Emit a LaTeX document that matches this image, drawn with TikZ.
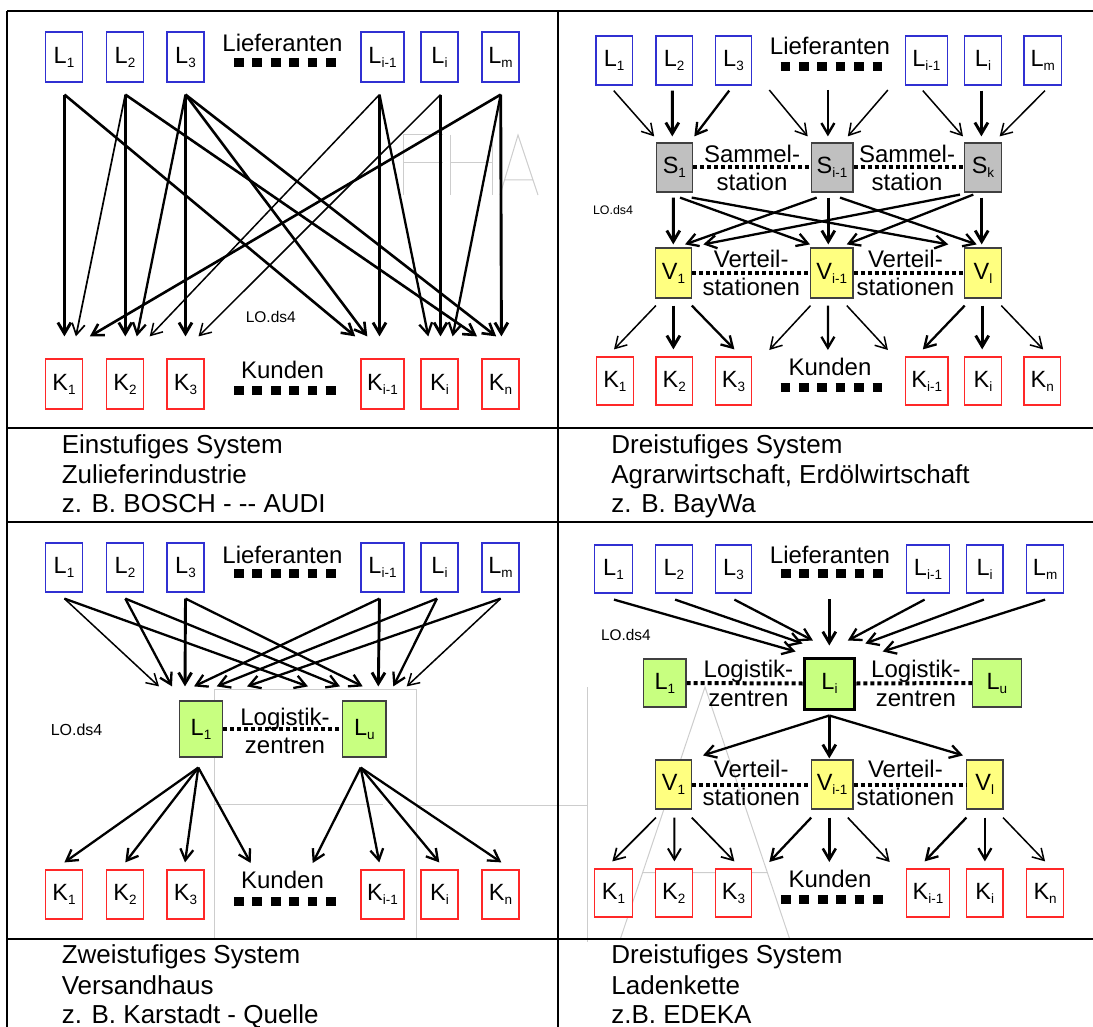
\documentclass[tikz,border=0pt]{standalone}
\usepackage{fontspec}
\setmainfont{Liberation Sans}
\usetikzlibrary{arrows.meta,calc}
\definecolor{lblue}{RGB}{48,48,210}
\definecolor{kred}{RGB}{255,40,40}
\definecolor{sgray}{RGB}{192,192,192}
\definecolor{vyel}{RGB}{255,255,128}
\definecolor{lgreen}{RGB}{200,255,128}
\definecolor{wmgray}{RGB}{205,205,205}
\newcommand\bx[2]{#1\raisebox{-4pt}{\fontsize{13.5}{13.5}\selectfont #2}}
\newcommand\ar[7]{\draw[#1] ($(#2.south)+(#3,#4)$) -- ($(#5.north)+(#6,#7)$);}
\begin{document}
\begin{tikzpicture}[x=1pt,y=-1pt,
 bxo/.style={draw,line width=1.2pt,inner sep=0pt,minimum width=37pt,minimum height=50pt,font=\fontsize{23.5}{23.5}\selectfont},
 lb/.style={bxo,draw=lblue,fill=white},
 kb/.style={bxo,draw=kred,fill=white},
 sb/.style={bxo,draw=black!75,fill=sgray},
 vb/.style={bxo,draw=black!75,fill=vyel},
 gb/.style={bxo,draw=black!75,fill=lgreen},
 arr/.style={-{Straight Barb[length=11pt,width=13pt]},line width=#1},
 thk/.style={arr=2.9pt},
 md/.style={arr=2.3pt},
 thn/.style={arr=1.5pt},
 sq/.style={line width=9pt,dash pattern=on 9.7pt off 8.7pt},
 dotl/.style={line width=4pt,dash pattern=on 4pt off 3pt},
 lab/.style={font=\fontsize{24}{24}\selectfont,inner sep=0pt,anchor=base},
 twol/.style={font=\fontsize{24}{28.5}\selectfont,align=center,inner sep=0pt},
 capt/.style={font=\fontsize{26}{26}\selectfont,inner sep=0pt,anchor=base west},
 lo/.style={font=\fontsize{#1}{#1}\selectfont,inner sep=0pt},
 frm/.style={line width=2.6pt},
 wm/.style={draw=wmgray,line width=1pt}
]
\useasboundingbox (0,0) rectangle (1093,1027);

% watermark
\draw[wm] (403,135) -- (403,195) (403,135) -- (443,135) (403,163) -- (443,163);
\draw[wm] (450,135) -- (450,195) (492,135) -- (492,195) (450,163) -- (492,163);
\draw[wm] (500,195) -- (518,135) -- (538,195) (504.5,180) -- (533,180);
\draw[wm] (214.3,938) -- (214.3,689) -- (416.7,689) -- (416.7,938) (214.3,804) -- (383.3,804);
\draw[wm] (416.7,805.7) -- (587.3,805.7) (587.3,687) -- (587.3,942);
\draw[wm] (620,940) -- (705,687) -- (790,940) (643.3,872.7) -- (766.7,872.7);

% frame
\draw[frm] (7,11) -- (1093,11);
\draw[frm] (7,11) -- (7,1027);
\draw[frm] (558,11) -- (558,1027);
\draw[frm] (7,428) -- (1093,428);
\draw[frm] (7,522) -- (1093,522);
\draw[frm] (7,939) -- (1093,939);

%% ===== top left =====
\node[lb] (tlL1) at (64,57) {\bx{L}{1}};
\node[lb] (tlL2) at (125,57) {\bx{L}{2}};
\node[lb] (tlL3) at (185.5,57) {\bx{L}{3}};
\node[lb,minimum width=43pt] (tlLi1) at (382.5,57) {\bx{L}{i-1}};
\node[lb] (tlLi) at (439.5,57) {\bx{L}{i}};
\node[lb] (tlLm) at (500.5,57) {\bx{L}{m}};
\node[kb] (tlK1) at (64,384) {\bx{K}{1}};
\node[kb] (tlK2) at (125,384) {\bx{K}{2}};
\node[kb] (tlK3) at (185.5,384) {\bx{K}{3}};
\node[kb,minimum width=43pt] (tlKi1) at (382.5,384) {\bx{K}{i-1}};
\node[kb] (tlKi) at (439.5,384) {\bx{K}{i}};
\node[kb] (tlKn) at (500.5,384) {\bx{K}{n}};
\node[lab] (tlLief) at (282.5,52) {Lieferanten};
\draw[sq] (234,63) -- (336,63);
\node[lab] (tlKund) at (282.5,378) {Kunden};
\draw[sq] (234,390) -- (336,390);
\node[lo=15.5] (tlLO) at (270.8,317) {LO.ds4};
\ar{thk}{tlL1}{0.4}{12}{tlK1}{0.4}{-22}
\ar{arr=2.6pt}{tlL1}{0.4}{12}{tlKi1}{-27.3}{-22}
\ar{arr=1.7pt}{tlL2}{0.3}{12}{tlK1}{11.9}{-22}
\ar{thk}{tlL2}{0.3}{12}{tlK2}{0.3}{-22}
\ar{arr=2.6pt}{tlL2}{0.3}{12}{tlKn}{-23.5}{-22}
\ar{md}{tlL3}{0}{12}{tlK2}{11.8}{-22}
\ar{thk}{tlL3}{0}{12}{tlK3}{0}{-22}
\ar{arr=2.6pt}{tlL3}{0}{12}{tlKi1}{-15.2}{-22}
\ar{arr=2.6pt}{tlL3}{0}{12}{tlKn}{-4.3}{-22}
\ar{thn}{tlLi1}{-3}{12}{tlK2}{24.7}{-22}
\ar{thk}{tlLi1}{-3}{12}{tlKi1}{-3}{-22}
\ar{md}{tlLi1}{-3}{12}{tlKi}{-11.2}{-22}
\ar{thn}{tlLi}{1}{12}{tlK3}{13}{-22}
\ar{thk}{tlLi}{1}{12}{tlKi}{1}{-22}
\ar{arr=2.6pt}{tlLm}{0.2}{12}{tlK1}{25.8}{-22}
\ar{md}{tlLm}{0.2}{12}{tlKi}{13.1}{-22}
\ar{thk}{tlLm}{0.2}{12}{tlKn}{0.9}{-22}
\node[capt] (tlc1) at (61.6,453) {Einstufiges System};
\node[capt] (tlc2) at (61.6,483) {Zulieferindustrie};
\node[capt] (tlc3) at (61.6,512.5) {z. B. BOSCH - -{}- AUDI};

%% ===== top right =====
\node[lb,minimum width=36.6pt,minimum height=49pt] (trL1) at (614.2,60.5) {\bx{L}{1}};
\node[lb,minimum width=36.6pt,minimum height=49pt] (trL2) at (674.2,60.5) {\bx{L}{2}};
\node[lb,minimum width=36.6pt,minimum height=49pt] (trL3) at (733.5,60.5) {\bx{L}{3}};
\node[lb,minimum width=42pt,minimum height=49pt] (trLi1) at (926.4,60.5) {\bx{L}{i-1}};
\node[lb,minimum width=36.6pt,minimum height=49pt] (trLi) at (983,60.5) {\bx{L}{i}};
\node[lb,minimum width=37.7pt,minimum height=49pt] (trLm) at (1042.8,60.5) {\bx{L}{m}};
\node[sb,minimum width=36.2pt,minimum height=49pt] (trS1) at (674.4,167.5) {\bx{S}{1}};
\node[sb,minimum width=41.8pt,minimum height=49pt] (trSi1) at (832,167.5) {\bx{S}{i-1}};
\node[sb,minimum width=36.6pt,minimum height=49pt] (trSk) at (983,167.5) {\bx{S}{k}};
\node[vb,minimum width=36.6pt] (trV1) at (673.5,273) {\bx{V}{1}};
\node[vb,minimum width=42.5pt] (trVi1) at (831.8,273) {\bx{V}{i-1}};
\node[vb,minimum width=36.6pt] (trVl) at (983,273) {\bx{V}{l}};
\node[kb,minimum width=36.6pt,minimum height=48pt] (trK1) at (614.9,381) {\bx{K}{1}};
\node[kb,minimum width=36.6pt,minimum height=48pt] (trK2) at (674.2,381) {\bx{K}{2}};
\node[kb,minimum width=36.6pt,minimum height=48pt] (trK3) at (733.5,381) {\bx{K}{3}};
\node[kb,minimum width=42.6pt,minimum height=48pt] (trKi1) at (926.7,381) {\bx{K}{i-1}};
\node[kb,minimum width=36.6pt,minimum height=48pt] (trKi) at (983,381) {\bx{K}{i}};
\node[kb,minimum width=36.6pt,minimum height=48pt] (trKn) at (1042.3,381) {\bx{K}{n}};
\node[lab] (trLief) at (830,55) {Lieferanten};
\draw[sq] (780.5,67) -- (882.5,67);
\node[lab] (trKund) at (830,375) {Kunden};
\draw[sq] (780.5,387) -- (882.5,387);
\node[lo=12.4] (trLO) at (613,210) {LO.ds4};
\draw[dotl] (trS1.east) -- (trSi1.west);
\draw[dotl] (trSi1.east) -- (trSk.west);
\draw[dotl] (trV1.east) -- (trVi1.west);
\draw[dotl] (trVi1.east) -- (trVl.west);
\node[twol] (trSam1) at (752,168) {Sammel-\\station};
\node[twol] (trSam2) at (907,168) {Sammel-\\station};
\node[twol] (trVer1) at (751.2,273) {Verteil-\\stationen};
\node[twol] (trVer2) at (905.4,273) {Verteil-\\stationen};
% L -> S
\ar{thn}{trL1}{-0.5}{5}{trS1}{-20.2}{-6}
\ar{thk}{trL2}{-1.9}{5}{trS1}{-2.1}{-6}
\ar{md}{trL3}{-4.3}{5}{trS1}{19.9}{-6}
\coordinate (trd1) at (769.3,90);
\coordinate (trd2) at (827.9,90);
\coordinate (trd3) at (887.9,90);
\draw[thn] (trd1) -- ($(trSi1.north)+(-24.3,-6)$);
\draw[arr=2.4pt] (trd2) -- ($(trSi1.north)+(-4.1,-6)$);
\draw[thn] (trd3) -- ($(trSi1.north)+(15.8,-6)$);
\ar{thn}{trLi1}{-3.6}{5}{trSk}{-20}{-6}
\ar{thk}{trLi}{-1.6}{5}{trSk}{-1.6}{-6}
\ar{thn}{trLm}{2.2}{5}{trSk}{16.6}{-6}
% S -> V
\ar{thk}{trS1}{-1.1}{5}{trV1}{-0.2}{-3}
\ar{md}{trS1}{5.6}{5}{trVi1}{-21.8}{-3}
\ar{md}{trS1}{17.3}{5}{trVl}{-34.7}{-3}
\ar{md}{trSi1}{-15.3}{5}{trV1}{11.5}{-3}
\ar{thk}{trSi1}{-3.7}{5}{trVi1}{-3.5}{-3}
\ar{md}{trSi1}{8}{5}{trVl}{-6.3}{-3}
\ar{md}{trSk}{-23}{2}{trV1}{29.8}{-3}
\ar{md}{trSk}{-9.7}{2}{trVi1}{14.9}{-3}
\ar{thk}{trSk}{-1.3}{5}{trVl}{-1.3}{-3}
% V -> K
\ar{thn}{trV1}{-17.6}{7}{trK1}{-0.9}{-7}
\ar{thk}{trV1}{-0.1}{7}{trK2}{-0.8}{-7}
\ar{md}{trV1}{18.3}{7}{trK3}{0.9}{-7}
\coordinate (trf1) at (769.3,350);
\coordinate (trf2) at (827.9,350);
\coordinate (trf3) at (887.9,350);
\draw[thn] ($(trVi1.south)+(-21.3,7)$) -- (trf1);
\draw[md] ($(trVi1.south)+(-3.9,7)$) -- (trf2);
\draw[thn] ($(trVi1.south)+(15,7)$) -- (trf3);
\ar{md}{trVl}{-18.3}{7}{trKi1}{-3.9}{-7}
\ar{thk}{trVl}{-0.8}{7}{trKi}{-0.8}{-7}
\ar{thn}{trVl}{18.3}{7}{trKn}{0.9}{-7}
\node[capt] (trc1) at (611.2,453) {Dreistufiges System};
\node[capt] (trc2) at (611.2,483) {Agrarwirtschaft, Erdölwirtschaft};
\node[capt] (trc3) at (611.2,512.5) {z. B. BayWa};

%% ===== bottom left =====
\node[lb,minimum height=49pt] (blL1) at (64,567.5) {\bx{L}{1}};
\node[lb,minimum height=49pt] (blL2) at (125,567.5) {\bx{L}{2}};
\node[lb,minimum height=49pt] (blL3) at (185.5,567.5) {\bx{L}{3}};
\node[lb,minimum width=43pt,minimum height=49pt] (blLi1) at (382.5,567.5) {\bx{L}{i-1}};
\node[lb,minimum height=49pt] (blLi) at (439.5,567.5) {\bx{L}{i}};
\node[lb,minimum height=49pt] (blLm) at (500.5,567.5) {\bx{L}{m}};
\node[gb,minimum width=43.4pt,minimum height=56pt] (blLL1) at (201,729) {\bx{L}{1}};
\node[gb,minimum width=43.3pt,minimum height=56pt] (blLLu) at (364.3,729) {\bx{L}{u}};
\node[kb,minimum height=49pt] (blK1) at (64,894.5) {\bx{K}{1}};
\node[kb,minimum height=49pt] (blK2) at (125,894.5) {\bx{K}{2}};
\node[kb,minimum height=49pt] (blK3) at (185.5,894.5) {\bx{K}{3}};
\node[kb,minimum width=43pt,minimum height=49pt] (blKi1) at (382.5,894.5) {\bx{K}{i-1}};
\node[kb,minimum height=49pt] (blKi) at (439.5,894.5) {\bx{K}{i}};
\node[kb,minimum height=49pt] (blKn) at (500.5,894.5) {\bx{K}{n}};
\node[lab] (blLief) at (282.5,563) {Lieferanten};
\draw[sq] (234,573) -- (336,573);
\node[lab] (blKund) at (282.5,888) {Kunden};
\draw[sq] (234,901) -- (336,901);
\node[lo=16] (blLO) at (76.6,730) {LO.ds4};
\draw[dotl] (blLL1.east) -- (blLLu.west);
\node[twol] (blLog) at (285,731) {Logistik-\\zentren};
\ar{thn}{blL1}{0.4}{6}{blLL1}{-42}{-14}
\ar{md}{blL1}{0.4}{6}{blLLu}{-56.3}{-14}
\ar{md}{blL2}{0.3}{6}{blLL1}{-29}{-14}
\ar{md}{blL2}{0.3}{6}{blLLu}{-24.3}{-14}
\ar{thk}{blL3}{0}{6}{blLL1}{-16}{-14}
\ar{md}{blL3}{0}{6}{blLLu}{-1.6}{-14}
\ar{md}{blLi1}{-3}{6}{blLL1}{-7}{-14}
\ar{thk}{blLi1}{-3}{6}{blLLu}{14}{-14}
\ar{md}{blLi}{-2.5}{6}{blLL1}{15.7}{-14}
\ar{md}{blLi}{-2.5}{6}{blLLu}{29}{-14}
\ar{md}{blLm}{0.2}{6}{blLL1}{46}{-14}
\ar{thn}{blLm}{0.2}{6}{blLLu}{42.4}{-14}
\ar{md}{blLL1}{-2.7}{10}{blK1}{0.4}{-7}
\ar{md}{blLL1}{-2.7}{10}{blK2}{0.3}{-7}
\ar{md}{blLL1}{-2.7}{10}{blK3}{-0.5}{-7}
\coordinate (blf1) at (250.7,863);
\coordinate (blf2) at (312.7,863);
\draw[md] ($(blLL1.south)+(-2.7,10)$) -- (blf1);
\draw[md] ($(blLLu.south)+(-3.6,10)$) -- (blf2);
\ar{md}{blLLu}{-3.6}{10}{blKi1}{-3.2}{-7}
\ar{md}{blLLu}{-3.6}{10}{blKi}{-0.2}{-7}
\ar{md}{blLLu}{-3.6}{10}{blKn}{0.9}{-7}
\node[capt] (blc1) at (61.6,963.3) {Zweistufiges System};
\node[capt] (blc2) at (61.6,994) {Versandhaus};
\node[capt] (blc3) at (61.6,1023.5) {z. B. Karstadt - Quelle};

%% ===== bottom right =====
\node[lb,minimum width=37.4pt,minimum height=48pt] (brL1) at (613.5,569) {\bx{L}{1}};
\node[lb,minimum width=37.4pt,minimum height=48pt] (brL2) at (673.8,569) {\bx{L}{2}};
\node[lb,minimum width=36.7pt,minimum height=48pt] (brL3) at (733.5,569) {\bx{L}{3}};
\node[lb,minimum width=43.3pt,minimum height=48pt] (brLi1) at (928,569) {\bx{L}{i-1}};
\node[lb,minimum width=36.7pt,minimum height=48pt] (brLi) at (984.7,569) {\bx{L}{i}};
\node[lb,minimum width=36.6pt,minimum height=48pt] (brLm) at (1045.1,569) {\bx{L}{m}};
\node[gb,minimum width=42.3pt,minimum height=48pt] (brLL1) at (664.8,683) {\bx{L}{1}};
\node[gb,draw=black,line width=3pt,minimum width=50.6pt,minimum height=51pt] (brLLi) at (829.5,683.5) {\bx{L}{i}};
\node[gb,minimum width=48.8pt,minimum height=48pt] (brLLu) at (996.8,683) {\bx{L}{u}};
\node[vb,minimum width=36.6pt,minimum height=49pt] (brV1) at (673.5,784.5) {\bx{V}{1}};
\node[vb,minimum width=41.8pt,minimum height=49pt] (brVi1) at (832.1,784.5) {\bx{V}{i-1}};
\node[vb,minimum width=36.7pt,minimum height=49pt] (brVl) at (984.7,784.5) {\bx{V}{l}};
\node[kb,minimum width=37.4pt,minimum height=48pt] (brK1) at (613.5,893) {\bx{K}{1}};
\node[kb,minimum width=37.4pt,minimum height=48pt] (brK2) at (673.8,893) {\bx{K}{2}};
\node[kb,minimum width=36.7pt,minimum height=48pt] (brK3) at (733.5,893) {\bx{K}{3}};
\node[kb,minimum width=43.3pt,minimum height=48pt] (brKi1) at (928,893) {\bx{K}{i-1}};
\node[kb,minimum width=36.7pt,minimum height=48pt] (brKi) at (984.7,893) {\bx{K}{i}};
\node[kb,minimum width=36.6pt,minimum height=48pt] (brKn) at (1045.1,893) {\bx{K}{n}};
\node[lab] (brLief) at (830,563) {Lieferanten};
\draw[sq] (781,573.3) -- (883,573.3);
\node[lab] (brKund) at (830,887) {Kunden};
\draw[sq] (781,899) -- (883,899);
\node[lo=15.4] (brLO) at (625.9,635) {LO.ds4};
\draw[dotl] (brLL1.east) -- (brLLi.west);
\draw[dotl] (brLLi.east) -- (brLLu.west);
\draw[dotl] (brV1.east) -- (brVi1.west);
\draw[dotl] (brVi1.east) -- (brVl.west);
\node[twol] (brLog1) at (748.4,683.5) {Logistik-\\zentren};
\node[twol] (brLog2) at (915.9,683.5) {Logistik-\\zentren};
\node[twol] (brVer1) at (751.2,783) {Verteil-\\stationen};
\node[twol] (brVer2) at (905.4,783) {Verteil-\\stationen};
% L -> Li
\ar{md}{brL1}{0.5}{6}{brLLi}{-34}{-5}
\ar{md}{brL2}{1.3}{6}{brLLi}{-27}{-13}
\ar{md}{brL3}{0.9}{6}{brLLi}{-16.6}{-16}
\coordinate (brd) at (829.3,599);
\draw[thk] (brd) -- ($(brLLi.north)+(-0.2,-11)$);
\ar{md}{brLi1}{-3.4}{6}{brLLi}{18.3}{-16}
\ar{md}{brLi}{-0.8}{6}{brLLi}{35.8}{-13}
\ar{md}{brLm}{0}{6}{brLLi}{53.2}{-5}
% Li -> V
\ar{md}{brLLi}{-0.2}{5}{brV1}{29.5}{-4}
\ar{thk}{brLLi}{-0.2}{5}{brVi1}{-2.8}{-1}
\ar{md}{brLLi}{-0.2}{5}{brVl}{-21.7}{-4}
% V -> K
\ar{arr=1.7pt}{brV1}{-17.6}{8}{brK1}{-1.2}{-7}
\ar{arr=2pt}{brV1}{0.9}{8}{brK2}{0.6}{-7}
\ar{arr=1.7pt}{brV1}{18.3}{8}{brK3}{0.9}{-7}
\coordinate (brf1) at (769.3,862);
\coordinate (brf2) at (829.3,862);
\coordinate (brf3) at (889.7,862);
\draw[md] ($(brVi1.south)+(-20.9,8)$) -- (brf1);
\draw[arr=2.6pt] ($(brVi1.south)+(-2.8,8)$) -- (brf2);
\draw[arr=1.6pt] ($(brVi1.south)+(15.7,8)$) -- (brf3);
\ar{md}{brVl}{-18.3}{8}{brKi1}{-3.4}{-7}
\ar{md}{brVl}{0.2}{8}{brKi}{0.2}{-7}
\ar{thn}{brVl}{18.3}{8}{brKn}{0}{-7}
\node[capt] (brc1) at (611.2,963.3) {Dreistufiges System};
\node[capt] (brc2) at (611.2,994) {Ladenkette};
\node[capt] (brc3) at (611.2,1023.5) {z.B. EDEKA};
\end{tikzpicture}
\end{document}
